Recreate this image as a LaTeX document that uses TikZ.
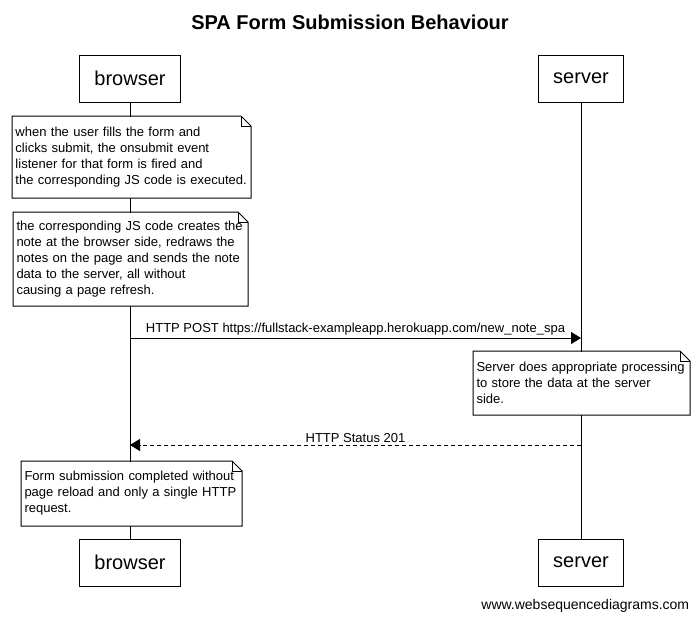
\documentclass[tikz,border=0pt]{standalone}
\usepackage{fontspec}
\setmainfont{Liberation Sans}
\usetikzlibrary{arrows.meta,positioning}

\begin{document}
\begin{tikzpicture}[
  x=1pt, y=-1pt,
  line width=1pt,
  actor/.style = {
    rectangle, draw=black, fill=white, line width=1pt,
    inner xsep=15pt, minimum height=47pt,
    font=\fontsize{20}{24}\selectfont
  },
  notebox/.style = {
    rectangle, fill=white, anchor=north west,
    align=left, inner xsep=3pt,
    font=\fontsize{13}{16}\selectfont
  },
  msg/.style   = {-{Triangle[length=10pt,width=12pt]}, line width=1pt},
  reply/.style = {msg, dash pattern=on 4pt off 3pt},
  lbl/.style   = {font=\fontsize{13}{15}\selectfont, inner sep=2pt},
]
\useasboundingbox (0,0) rectangle (699,621);

%% ---- Title ----
\node[font=\bfseries\fontsize{20}{24}\selectfont] (title) at (350,22)
  {SPA Form Submission Behaviour};

%% ---- Participants ----
\node[actor] (browser) at (130,78.5) {browser};
\node[actor] (server)  at (581,78.5) {server};
\node[actor] (browser2) at (130,562.5) {browser};
\node[actor] (server2)  at (581,562.5) {server};

%% ---- Lifelines ----
\draw (browser.south) -- (browser2.north);
\draw (server.south)  -- (server2.north);

%% ---- Notes ----
\node[notebox, minimum width=238pt, text width=232pt, minimum height=81pt]
  (note1) at (12,116) {%
  when the user fills the form and\\
  clicks submit, the onsubmit event\\
  listener for that form is fired and\\
  the corresponding JS code is executed.%
};

\node[notebox, minimum width=234pt, text width=228pt, minimum height=93pt]
  (note2) at (13,212) {%
  the corresponding JS code creates the\\
  note at the browser side, redraws the\\
  notes on the page and sends the note\\
  data to the server, all without\\
  causing a page refresh.%
};

\node[notebox, minimum width=216pt, text width=210pt, minimum height=63pt]
  (note3) at (473,351) {%
  Server does appropriate processing\\
  to store the data at the server\\
  side.%
};

\node[notebox, minimum width=220pt, text width=214pt, minimum height=64pt]
  (note4) at (21,461) {%
  Form submission completed without\\
  page reload and only a single HTTP\\
  request.%
};

%% ---- Note outlines with folded corner ----
\foreach \n in {note1,note2,note3,note4} {
  \draw (\n.north west) -- ([xshift=-10pt]\n.north east)
        -- ([yshift=-10pt]\n.north east) -- (\n.south east)
        -- (\n.south west) -- cycle;
  \draw ([xshift=-10pt]\n.north east) -- ([xshift=-10pt,yshift=-10pt]\n.north east)
        -- ([yshift=-10pt]\n.north east);
}

%% ---- Messages ----
\coordinate (postL) at (browser |- 0,338);
\coordinate (postR) at (server  |- 0,338);
\draw[msg] (postL) -- node[lbl, above] (postlbl)
  {HTTP POST https://fullstack-exampleapp.herokuapp.com/new\_note\_spa} (postR);

\coordinate (okR) at (server  |- 0,445);
\coordinate (okL) at (browser |- 0,445);
\draw[reply] (okR) -- node[lbl, above] (oklbl) {HTTP Status 201} (okL);

%% ---- Footer ----
\node[anchor=east, font=\fontsize{14}{16}\selectfont] (footer) at (693,606)
  {www.websequencediagrams.com};

\end{tikzpicture}
\end{document}
